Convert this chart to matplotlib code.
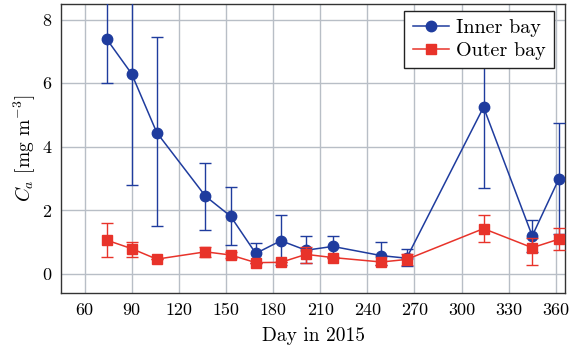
import matplotlib
matplotlib.use("Agg")
import matplotlib.pyplot as plt
from matplotlib.lines import Line2D
import numpy as np

# Inner bay
inner_day = [74, 90, 106, 137, 153, 169, 185, 201, 218, 249, 265, 314, 345, 362]
inner_val = [7.4, 6.3, 4.45, 2.45, 1.82, 0.65, 1.05, 0.75, 0.87, 0.58, 0.5, 5.25, 1.2, 3.0]
inner_lo = [6.0, 2.8, 1.5, 1.4, 0.9, 0.35, 0.3, 0.35, 0.55, 0.3, 0.25, 2.7, 0.7, 1.25]
inner_hi = [8.8, 9.8, 7.45, 3.5, 2.75, 0.97, 1.85, 1.2, 1.2, 1.0, 0.8, 7.8, 1.7, 4.75]

# Outer bay
outer_day = [74, 90, 106, 137, 153, 169, 185, 201, 218, 249, 265, 314, 345, 362]
outer_val = [1.07, 0.8, 0.47, 0.7, 0.6, 0.36, 0.37, 0.62, 0.52, 0.38, 0.46, 1.43, 0.83, 1.1]
outer_lo = [0.55, 0.55, 0.47, 0.55, 0.5, 0.36, 0.37, 0.35, 0.52, 0.3, 0.3, 1.0, 0.3, 0.75]
outer_hi = [1.6, 1.0, 0.47, 0.85, 0.7, 0.36, 0.37, 0.85, 0.52, 0.4, 0.62, 1.85, 1.15, 1.45]

xticks = [60, 90, 120, 150, 180, 210, 240, 270, 300, 330, 360]
yticks = [0, 2, 4, 6, 8]

plt.rcParams['font.family'] = 'cmr10'
plt.rcParams['mathtext.fontset'] = 'cm'
plt.rcParams['axes.unicode_minus'] = False

fig = plt.figure(figsize=(5.75, 3.49), dpi=100)
ax = fig.add_axes([0.106, 0.16, 0.877, 0.829])

blue = '#1f3c9e'
red = '#e8332a'

ierr = [np.array(inner_val) - np.array(inner_lo), np.array(inner_hi) - np.array(inner_val)]
oerr = [np.array(outer_val) - np.array(outer_lo), np.array(outer_hi) - np.array(outer_val)]

ax.errorbar(inner_day, inner_val, yerr=ierr, color=blue, marker='o', ms=7.5,
            lw=1.1, elinewidth=1.0, capsize=4, capthick=1.0, zorder=3)
ax.errorbar(outer_day, outer_val, yerr=oerr, color=red, marker='s', ms=7.5,
            lw=1.1, elinewidth=1.0, capsize=4, capthick=1.0, zorder=4)

ax.set_xlim(45, 366)
ax.set_ylim(-0.6, 8.5)
ax.set_xticks(xticks)
ax.set_yticks(yticks)
ax.grid(True, color='#b8bec6', lw=1.0)
ax.set_axisbelow(True)
ax.tick_params(direction='in', length=0, labelsize=13, pad=7)
for s in ax.spines.values():
    s.set_linewidth(1.0)
    s.set_color('#333333')

ax.set_xlabel('Day in 2015', fontsize=14, labelpad=6)
ax.set_ylabel(r'$C_a$ [mg m$^{-3}$]', fontsize=14, labelpad=3)

handles = [Line2D([], [], color=blue, marker='o', ms=7.5, lw=1.1),
           Line2D([], [], color=red, marker='s', ms=7.5, lw=1.1)]
leg = ax.legend(handles, ['Inner bay', 'Outer bay'], loc='upper right', fontsize=14.5,
                fancybox=False, framealpha=1, edgecolor='#222222',
                bbox_to_anchor=(0.977, 0.976), borderaxespad=0.0,
                handlelength=1.8, handletextpad=0.35,
                borderpad=0.4, labelspacing=0.25)
leg.get_frame().set_linewidth(1.0)

fig.savefig('out.png', dpi=100)
